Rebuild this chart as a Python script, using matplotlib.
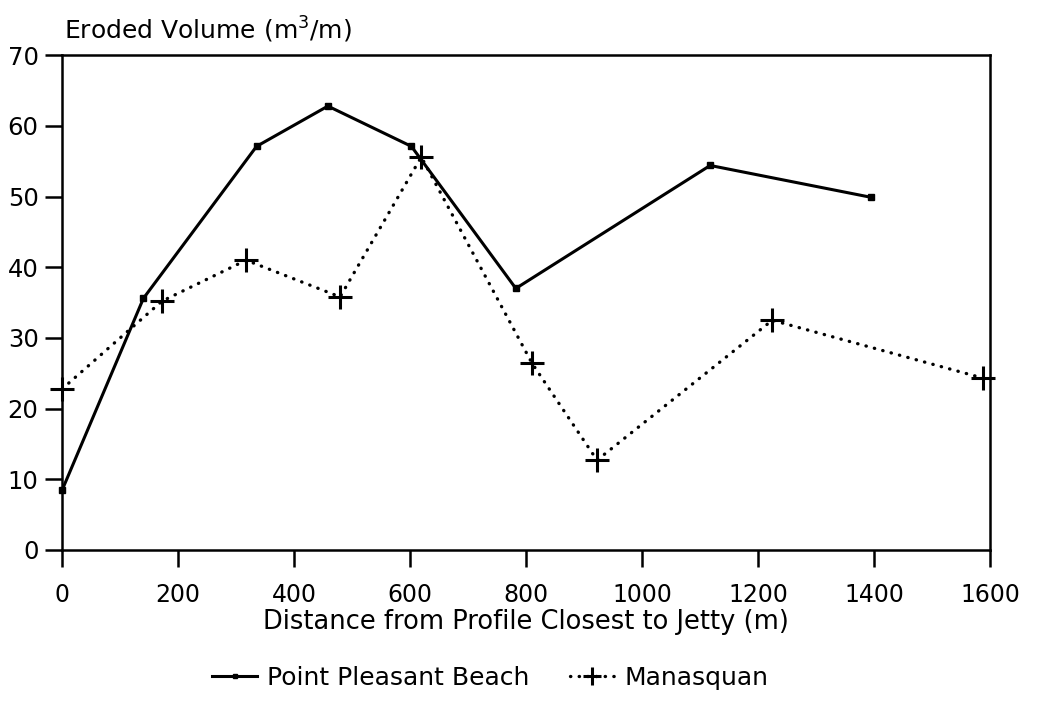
import matplotlib.pyplot as plt

# Point Pleasant Beach profiles
ppb_dist = [0, 140, 335, 458, 602, 782, 1117, 1394]
ppb_vol = [8.5, 35.6, 57.1, 62.8, 57.1, 37.0, 54.4, 49.9]

# Manasquan profiles
man_dist = [0, 172, 317, 479, 619, 810, 922, 1224, 1588]
man_vol = [22.8, 35.2, 41.0, 35.8, 55.6, 26.4, 12.7, 32.5, 24.3]

x_ticks = [0, 200, 400, 600, 800, 1000, 1200, 1400, 1600]
y_ticks = [0, 10, 20, 30, 40, 50, 60, 70]

plt.rcParams['font.family'] = ['DejaVu Sans']

fig = plt.figure(figsize=(10.37, 7.17), dpi=100)
ax = fig.add_axes([0.06, 0.233, 0.895, 0.69])

ax.plot(ppb_dist, ppb_vol, color='black', lw=2.2, marker='s', ms=4,
        label='Point Pleasant Beach', clip_on=False)
ax.plot(man_dist, man_vol, color='black', lw=2.4, ls=(0, (0.1, 2.5)),
        dash_capstyle='round', marker='+', ms=17, mew=2.2, label='Manasquan',
        clip_on=False)

ax.set_xlim(0, 1600)
ax.set_ylim(0, 70)
ax.set_xticks(x_ticks)
ax.set_yticks(y_ticks)
ax.tick_params(direction='out', length=12, width=1.8)
ax.tick_params(axis='x', labelsize=17, pad=12)
ax.tick_params(axis='y', labelsize=17.5, pad=5)
for s in ax.spines.values():
    s.set_linewidth(1.8)

ax.set_xlabel('Distance from Profile Closest to Jetty (m)', fontsize=18.5, labelpad=1)
fig.text(0.062, 0.958, 'Eroded Volume (m$^3$/m)', fontsize=18, ha='left', va='center')

fig.legend(loc='center', bbox_to_anchor=(0.473, 0.055), ncol=2, frameon=False,
           fontsize=18, handlelength=1.8, columnspacing=1.6, handletextpad=0.4,
           markerscale=0.8)

plt.savefig('out.png', dpi=100)
